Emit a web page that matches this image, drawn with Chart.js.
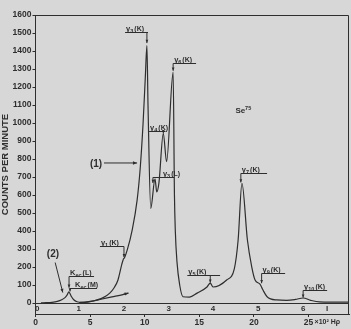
<!DOCTYPE html>
<html>
<head>
<meta charset="utf-8">
<script src="https://cdn.jsdelivr.net/npm/chart.js@4.4.1/dist/chart.umd.min.js"></script>
<style>
  html, body { margin: 0; padding: 0; background: #d7d7d7; }
  #wrap { width: 351px; height: 329px; }
</style>
</head>
<body>
<div id="wrap"><canvas id="c"></canvas></div>
<script>
// curve (1): Se75 spectrum, H-rho in units of 10^2
const hp1 = [4.0, 4.5, 5.0, 5.6, 6.2, 6.8, 7.2, 7.55, 7.9, 8.05, 8.15, 8.4, 8.85, 9.3, 9.6, 9.85, 10.05, 10.2,
  10.3, 10.55, 10.94, 11.1, 11.3, 11.7, 12.0, 12.6, 12.72, 12.8, 12.95, 13.2, 13.5, 14.1, 14.8, 15.7, 16.0,
  16.25, 17.5, 18.2, 18.55, 18.9, 19.4, 19.8, 20.1, 20.55, 20.8, 21.2, 22.1, 23.0, 23.8, 24.5, 25.2, 26.0, 27.0, 28.7];
const counts1 = [3, 4, 8, 17, 30, 55, 85, 128, 215, 245, 252, 295, 405, 570, 760, 1000, 1250, 1430,
  1100, 525, 690, 617, 667, 943, 785, 1283, 600, 400, 230, 100, 35, 33, 55, 89, 111,
  89, 128, 190, 350, 665, 350, 200, 128, 105, 75, 35, 17, 15, 20, 28, 15, 6, 5, 5];

// curve (2)
const hp2 = [0.5, 1.0, 1.5, 2.0, 2.4, 2.7, 2.9, 3.05, 3.25, 3.5, 3.8, 4.3, 5.0, 6.0, 7.0, 8.0, 8.5];
const counts2 = [1, 2, 4, 9, 18, 30, 45, 62, 40, 18, 7, 4, 9, 21, 34, 47, 55];

const yTicks = [0, 100, 200, 300, 400, 500, 600, 700, 800, 900, 1000, 1100, 1200, 1300, 1400, 1500, 1600];
const xTicks = [0, 5, 10, 15, 20, 25];
// second scale printed in the strip under the zero line
const stripLabels = ['0', '1', '2', '3', '4', '5', '6', 'I'];
const stripHp = [0.15, 3.95, 8.1, 12.2, 16.25, 20.4, 24.5, 26.7];

// line labels: [name, subscript, rest], underline x1..x2 at y, arrow at ax down to tip
const notes = [
  { t: ['γ', '3', '(K)'], x1: 8.2, x2: 10.3, y: 1506, ax: 10.2, tip: 1444 },
  { t: ['γ', '6', '(K)'], x1: 12.6, x2: 14.7, y: 1333, ax: 12.6, tip: 1290 },
  { t: ['γ', '4', '(K)'], x1: 10.4, x2: 11.9, y: 956, ax: 11.7, tip: 943 },
  { t: ['γ', '3', '(L)'], x1: 10.75, x2: 12.7, y: 700, ax: 10.75, tip: 667, dx: 9 },
  { t: ['γ', '1', '(K)'], x1: 5.9, x2: 8.1, y: 317, ax: 8.1, tip: 255 },
  { t: ['K', 'ec', '(L)'], x1: 3.07, x2: 5.36, y: 150, ax: 3.07, tip: 85 },
  { t: ['K', 'ec', '(M)'], x1: 3.16, x2: 5.63, y: 83, ax: 3.16, tip: 64, dx: 4 },
  { t: ['γ', '5', '(K)'], x1: 13.9, x2: 16.9, y: 156, ax: 16.0, tip: 113 },
  { t: ['γ', '9', '(K)'], x1: 20.7, x2: 22.85, y: 167, ax: 20.7, tip: 110 },
  { t: ['γ', '7', '(K)'], x1: 18.8, x2: 21.2, y: 722, ax: 18.8, tip: 670 },
  { t: ['γ', '10', '(K)'], x1: 24.5, x2: 26.7, y: 72, ax: 24.5, tip: 30 }
];

const ink = '#2e2e2e';
const fam = 'Liberation Sans';

function arrow(ctx, x0, y0, x1, y1, h) {
  ctx.beginPath(); ctx.moveTo(x0, y0); ctx.lineTo(x1, y1); ctx.stroke();
  const a = Math.atan2(y1 - y0, x1 - x0);
  ctx.beginPath();
  ctx.moveTo(x1, y1);
  ctx.lineTo(x1 - h * Math.cos(a - 0.4), y1 - h * Math.sin(a - 0.4));
  ctx.lineTo(x1 - h * Math.cos(a + 0.4), y1 - h * Math.sin(a + 0.4));
  ctx.closePath(); ctx.fill();
}

function rich(ctx, parts, x, y) {
  ctx.textAlign = 'left';
  ctx.textBaseline = 'alphabetic';
  ctx.font = 'bold 7.5px ' + fam;
  ctx.fillText(parts[0], x, y);
  x += ctx.measureText(parts[0]).width;
  ctx.font = 'bold 5.5px ' + fam;
  ctx.fillText(parts[1], x, y + 2);
  x += ctx.measureText(parts[1]).width + 1;
  ctx.font = 'bold 7px ' + fam;
  ctx.fillText(parts[2], x, y);
}

const extras = {
  id: 'extras',
  afterDatasetsDraw(chart) {
    const { ctx, chartArea: ca, scales: { x, y } } = chart;
    ctx.save();
    ctx.strokeStyle = ink; ctx.fillStyle = ink; ctx.lineWidth = 1;
    // frame top and right
    ctx.beginPath();
    ctx.moveTo(ca.left, ca.top + 0.5); ctx.lineTo(ca.right - 0.5, ca.top + 0.5); ctx.lineTo(ca.right - 0.5, ca.bottom);
    ctx.stroke();

    // strip scale
    const sy = (y.getPixelForValue(0) + ca.bottom) / 2 + 0.5;
    ctx.font = 'bold 8px ' + fam;
    ctx.textAlign = 'center'; ctx.textBaseline = 'middle';
    stripLabels.forEach((s, i) => ctx.fillText(s, x.getPixelForValue(stripHp[i]), sy));

    // unit after last tick
    ctx.font = 'bold 7px ' + fam;
    ctx.textAlign = 'left';
    ctx.fillText('×10² Hρ', x.getPixelForValue(25) + 6, ca.bottom + 8);

    // line labels
    notes.forEach(n => {
      const x1 = x.getPixelForValue(n.x1), x2 = x.getPixelForValue(n.x2);
      const yy = Math.round(y.getPixelForValue(n.y)) + 0.5;
      ctx.beginPath(); ctx.moveTo(x1, yy); ctx.lineTo(x2, yy); ctx.stroke();
      const ax = x.getPixelForValue(n.ax);
      arrow(ctx, ax, yy, ax, y.getPixelForValue(n.tip), 3.5);
      rich(ctx, n.t, x1 + 1 + (n.dx || 0), yy - 2);
    });

    // curve tags
    ctx.font = 'bold 10px ' + fam;
    ctx.textBaseline = 'middle';
    ctx.textAlign = 'right';
    ctx.fillText('(1)', x.getPixelForValue(6.1), y.getPixelForValue(770));
    arrow(ctx, x.getPixelForValue(6.27), y.getPixelForValue(778), x.getPixelForValue(9.3), y.getPixelForValue(778), 4.5);
    ctx.textAlign = 'center';
    ctx.fillText('(2)', x.getPixelForValue(1.6), y.getPixelForValue(270));
    arrow(ctx, x.getPixelForValue(1.8), y.getPixelForValue(225), x.getPixelForValue(2.5), y.getPixelForValue(58), 4);

    // arrowhead at the end of curve (2)
    const pts = chart.getDatasetMeta(1).data;
    const p0 = pts[pts.length - 2], p1 = pts[pts.length - 1];
    arrow(ctx, p0.x, p0.y, p1.x, p1.y, 4);

    // isotope
    ctx.textAlign = 'left'; ctx.textBaseline = 'alphabetic';
    ctx.font = 'bold 8px ' + fam;
    const sx = x.getPixelForValue(18.3), syy = y.getPixelForValue(1055);
    ctx.fillText('Se', sx, syy);
    ctx.font = 'bold 5.5px ' + fam;
    ctx.fillText('75', sx + ctx.measureText('Se').width + 3, syy - 3);
    ctx.restore();
  }
};

const tickFont = { size: 8.5, weight: 'bold', family: fam };

new Chart(document.getElementById('c'), {
  type: 'line',
  data: {
    datasets: [
      { data: hp1.map((v, i) => ({ x: v, y: counts1[i] })) },
      { data: hp2.map((v, i) => ({ x: v, y: counts2[i] })) }
    ]
  },
  options: {
    responsive: true,
    maintainAspectRatio: false,
    animation: false,
    layout: { padding: { top: 15, right: 2, left: 0, bottom: 0 } },
    elements: {
      line: { borderColor: ink, borderWidth: 1.2, cubicInterpolationMode: 'monotone', fill: false },
      point: { radius: 0 }
    },
    plugins: { legend: { display: false }, tooltip: { enabled: false } },
    scales: {
      x: {
        type: 'linear', min: 0, max: 28.7,
        afterBuildTicks: s => { s.ticks = xTicks.map(v => ({ value: v })); },
        afterFit: s => { s.height = 15; },
        grid: { drawOnChartArea: false, tickLength: 3, color: ink },
        border: { color: ink, width: 1 },
        ticks: { font: tickFont, color: ink, padding: 1, maxRotation: 0, autoSkip: false, callback: v => String(v) }
      },
      y: {
        min: -61, max: 1600,
        afterBuildTicks: s => { s.ticks = yTicks.map(v => ({ value: v })); },
        afterFit: s => { s.width = 35.5; },
        grid: {
          color: c => (c.tick && c.tick.value === 0 ? ink : 'rgba(0,0,0,0)'),
          tickColor: ink, tickLength: 3, lineWidth: 1
        },
        border: { color: ink, width: 1 },
        ticks: { font: tickFont, color: ink, padding: 1, autoSkip: false, callback: v => String(v) },
        title: {
          display: true, text: 'COUNTS PER MINUTE', color: ink,
          font: { size: 9.5, weight: 'bold', family: fam },
          padding: { top: 0, bottom: 0 }
        }
      }
    }
  },
  plugins: [extras]
});
</script>
</body>
</html>
